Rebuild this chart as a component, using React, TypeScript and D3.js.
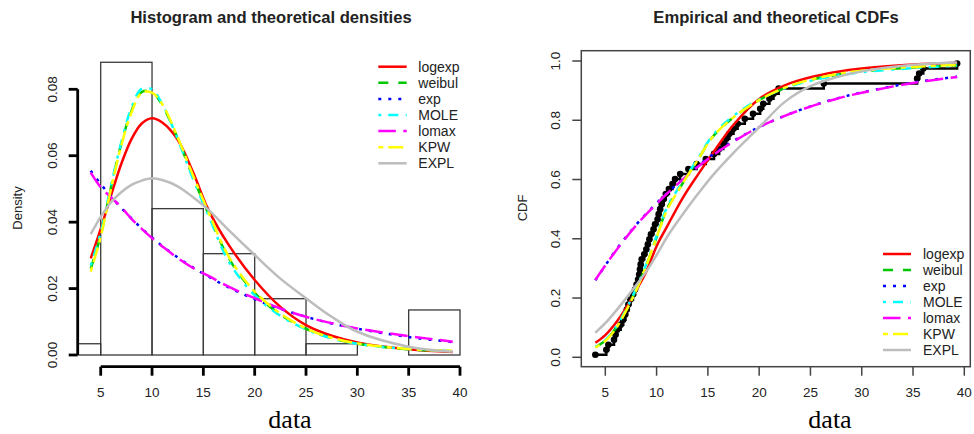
import React from 'react';
import * as d3 from 'd3';

// tick labels
const xTicks = [5, 10, 15, 20, 25, 30, 35, 40];
const densityTicks = [0, 0.02, 0.04, 0.06, 0.08];
const cdfTicks = [0, 0.2, 0.4, 0.6, 0.8, 1.0];
const histBreaks = [0, 5, 10, 15, 20, 25, 30, 35, 40];

const observations = [
  4.03, 5.1, 5.3, 5.85, 6.0, 6.15, 6.5, 6.75, 6.95, 7.1, 7.25, 7.45, 7.7, 7.9, 8.05,
  8.2, 8.3, 8.38, 8.45, 8.55, 8.8, 9.0, 9.15, 9.3, 9.45, 9.7, 9.85, 10.1, 10.2, 10.35,
  10.5, 10.7, 10.9, 11.2, 11.55, 11.8, 12.3, 13.1, 13.9, 14.8, 15.6, 16.1, 16.5, 16.8,
  17.1, 17.5, 17.9, 18.6, 19.4, 20.1, 20.4, 21.0, 21.4, 21.9, 26.3, 35.4, 35.6, 36.0, 39.3,
];

// x positions where the fitted curves were read
const gridX = [4.03, 5, 6, 7, 8, 9, 10, 11, 12.5, 14, 15.5, 17.5, 20, 22.5, 25, 27.5, 30, 35, 39.3];

// fitted densities
const densLogexp = [0.0291, 0.038, 0.048, 0.0575, 0.065, 0.0697, 0.0713, 0.07, 0.0648, 0.055, 0.0437, 0.033, 0.0226, 0.0145, 0.009, 0.0058, 0.0038, 0.0017, 0.0009];
const densWeibull = [0.026, 0.036, 0.0505, 0.0635, 0.0735, 0.0792, 0.0792, 0.0752, 0.0652, 0.0535, 0.0425, 0.029, 0.0187, 0.0122, 0.0079, 0.0051, 0.0034, 0.0017, 0.0012];
const densExp = [0.0555, 0.0515, 0.0478, 0.0443, 0.0411, 0.0381, 0.0354, 0.0328, 0.0294, 0.0263, 0.0236, 0.0203, 0.0168, 0.0139, 0.0115, 0.0095, 0.0079, 0.0054, 0.0039];
const densMole = [0.027, 0.037, 0.051, 0.064, 0.0745, 0.0802, 0.08, 0.0755, 0.065, 0.053, 0.042, 0.028, 0.018, 0.0118, 0.0077, 0.005, 0.0034, 0.0018, 0.0012];
const densLomax = [0.0549, 0.0505, 0.0475, 0.0445, 0.041, 0.038, 0.0352, 0.0327, 0.0292, 0.0262, 0.0238, 0.0205, 0.0171, 0.014, 0.0115, 0.0096, 0.008, 0.0057, 0.004];
const densKpw = [0.0251, 0.0356, 0.05, 0.063, 0.073, 0.079, 0.079, 0.0755, 0.0655, 0.054, 0.043, 0.0295, 0.0191, 0.0125, 0.008, 0.0052, 0.0035, 0.0018, 0.0013];
const densExpl = [0.0364, 0.0416, 0.046, 0.049, 0.0512, 0.0525, 0.0532, 0.0527, 0.0508, 0.0475, 0.0437, 0.0375, 0.0301, 0.023, 0.0171, 0.0115, 0.007, 0.0025, 0.001];

// fitted CDFs
const cdfLogexp = [0.049, 0.075, 0.115, 0.165, 0.225, 0.29, 0.375, 0.44, 0.535, 0.615, 0.69, 0.785, 0.872, 0.918, 0.945, 0.963, 0.975, 0.988, 0.994];
const cdfWeibull = [0.034, 0.056, 0.097, 0.157, 0.228, 0.31, 0.405, 0.5, 0.585, 0.665, 0.745, 0.81, 0.868, 0.909, 0.936, 0.953, 0.965, 0.978, 0.986];
const cdfExp = [0.26, 0.31, 0.36, 0.405, 0.447, 0.485, 0.52, 0.553, 0.6, 0.645, 0.685, 0.73, 0.777, 0.815, 0.847, 0.873, 0.894, 0.927, 0.947];
const cdfMole = [0.035, 0.058, 0.1, 0.16, 0.232, 0.315, 0.41, 0.505, 0.59, 0.67, 0.75, 0.815, 0.87, 0.908, 0.933, 0.95, 0.962, 0.976, 0.984];
const cdfLomax = [0.261, 0.31, 0.358, 0.403, 0.445, 0.483, 0.518, 0.552, 0.598, 0.642, 0.682, 0.728, 0.777, 0.815, 0.846, 0.872, 0.893, 0.926, 0.946];
const cdfKpw = [0.033, 0.055, 0.095, 0.155, 0.225, 0.31, 0.405, 0.495, 0.585, 0.665, 0.745, 0.81, 0.868, 0.91, 0.937, 0.955, 0.967, 0.98, 0.987];
const cdfExpl = [0.083, 0.115, 0.155, 0.198, 0.243, 0.29, 0.345, 0.405, 0.48, 0.55, 0.615, 0.69, 0.776, 0.862, 0.915, 0.945, 0.965, 0.987, 0.995];

const modelNames = ['logexp', 'weibul', 'exp', 'MOLE', 'lomax', 'KPW', 'EXPL'];
const modelColors = ['#ff0000', '#00c800', '#0000ff', '#00ffff', '#ff00ff', '#ffff00', '#bdbdbd'];
const modelDash = [null, '10 10', '3 7', '3 7 10 7.5', '17.5 7.5', '5 5 15 5', null];
const modelDens = [densLogexp, densWeibull, densExp, densMole, densLomax, densKpw, densExpl];
const modelCdf = [cdfLogexp, cdfWeibull, cdfExp, cdfMole, cdfLomax, cdfKpw, cdfExpl];

const SANS = 'Liberation Sans, Arial, sans-serif';
const SERIF = 'Liberation Serif, Times New Roman, serif';
const LW = 2.5;

function Legend({ x1, x2, tx, y0, step }) {
  return (
    <g>
      {modelNames.map((name, i) => (
        <g key={name}>
          <line x1={x1} x2={x2} y1={y0 + i * step} y2={y0 + i * step}
            stroke={modelColors[i]} strokeWidth={LW}
            strokeDasharray={modelDash[i] || undefined} />
          <text x={tx} y={y0 + i * step + 5} fontSize={14} fontFamily={SANS} fill="#222">{name}</text>
        </g>
      ))}
    </g>
  );
}

export default function App() {
  // left panel scales
  const xL = d3.scaleLinear().domain([5, 40]).range([100.7, 460]);
  const yL = d3.scaleLinear().domain([0, 0.08]).range([355, 89.3]);
  // right panel scales
  const xR = d3.scaleLinear().domain([5, 40]).range([605.3, 964.3]);
  const yR = d3.scaleLinear().domain([0, 1]).range([357.3, 61]);

  const n = observations.length;
  const bins = d3.bin().domain([0, 40]).thresholds(histBreaks.slice(1, -1))(observations);

  const densLine = (vals) =>
    d3.line().x((d, i) => xL(gridX[i])).y((d) => yL(d)).curve(d3.curveCatmullRom.alpha(0.5))(vals);
  const cdfLine = (vals) =>
    d3.line().x((d, i) => xR(gridX[i])).y((d) => yR(d)).curve(d3.curveCatmullRom.alpha(0.5))(vals);

  const ecdf = observations.map((v, i) => [v, (i + 0.5) / n]);
  const stepPath = d3.line().x((d) => xR(d[0])).y((d) => yR(d[1])).curve(d3.curveStepAfter)(ecdf);

  const leftX0 = 77.7, axisY = 366.7;
  const boxR = { x: 581.3, y: 50.7, w: 970.3 - 581.3, h: 366.7 - 50.7 };

  return (
    <svg width={974} height={434} style={{ position: 'absolute', left: 0, top: 0, background: '#fff' }}>
      <defs>
        <clipPath id="leftClip">
          <rect x={leftX0} y={40} width={400} height={axisY - 40} />
        </clipPath>
      </defs>

      {/* ---------- left: histogram + densities ---------- */}
      <text x={271} y={23} textAnchor="middle" fontSize={16.6} fontWeight="bold" fontFamily={SANS} fill="#222">
        Histogram and theoretical densities
      </text>
      <g clipPath="url(#leftClip)">
        {bins.map((b, i) => (
          <rect key={i} x={xL(b.x0)} y={yL(b.length / (n * (b.x1 - b.x0)))}
            width={xL(b.x1) - xL(b.x0)} height={yL(0) - yL(b.length / (n * (b.x1 - b.x0)))}
            fill="none" stroke="#3a3a3a" strokeWidth={1.3} />
        ))}
        {modelDens.map((vals, i) => (
          <path key={i} d={densLine(vals)} fill="none" stroke={modelColors[i]} strokeWidth={LW}
            strokeDasharray={modelDash[i] || undefined} />
        ))}
      </g>
      {/* y axis */}
      <line x1={leftX0} x2={leftX0} y1={yL(0)} y2={yL(0.08)} stroke="#000" strokeWidth={2.8} />
      {densityTicks.map((t) => (
        <g key={t}>
          <line x1={leftX0} x2={leftX0 - 9} y1={yL(t)} y2={yL(t)} stroke="#000" strokeWidth={2.8} />
          <text transform={`translate(${56.5},${yL(t)}) rotate(-90)`} textAnchor="middle"
            fontSize={13.5} fontFamily={SANS} fill="#222">{d3.format('.2f')(t)}</text>
        </g>
      ))}
      {/* x axis */}
      <line x1={xL(5)} x2={xL(40)} y1={axisY} y2={axisY} stroke="#000" strokeWidth={2.8} />
      {xTicks.map((t) => (
        <g key={t}>
          <line x1={xL(t)} x2={xL(t)} y1={axisY} y2={axisY + 9} stroke="#000" strokeWidth={2.8} />
          <text x={xL(t)} y={396.5} textAnchor="middle" fontSize={13.5} fontFamily={SANS} fill="#222">{t}</text>
        </g>
      ))}
      <text transform="translate(22,208) rotate(-90)" textAnchor="middle" fontSize={13} fontFamily={SANS} fill="#222">Density</text>
      <text x={290} y={428} textAnchor="middle" fontSize={26} fontFamily={SERIF} fill="#000">data</text>
      <Legend x1={378.3} x2={406.7} tx={418.3} y0={66.7} step={16.1} />

      {/* ---------- right: empirical + theoretical CDFs ---------- */}
      <text x={776} y={23} textAnchor="middle" fontSize={16.6} fontWeight="bold" fontFamily={SANS} fill="#222">
        Empirical and theoretical CDFs
      </text>
      <path d={stepPath} fill="none" stroke="#000" strokeWidth={2.5} />
      {ecdf.map((d, i) => (
        <circle key={i} cx={xR(d[0])} cy={yR(d[1])} r={3.3} fill="#000" />
      ))}
      {modelCdf.map((vals, i) => (
        <path key={i} d={cdfLine(vals)} fill="none" stroke={modelColors[i]} strokeWidth={LW}
          strokeDasharray={modelDash[i] || undefined} />
      ))}
      <rect x={boxR.x} y={boxR.y} width={boxR.w} height={boxR.h} fill="none" stroke="#444" strokeWidth={1.5} />
      {cdfTicks.map((t) => (
        <g key={t}>
          <line x1={boxR.x} x2={boxR.x - 9} y1={yR(t)} y2={yR(t)} stroke="#444" strokeWidth={1.5} />
          <text transform={`translate(${560},${yR(t)}) rotate(-90)`} textAnchor="middle"
            fontSize={13.5} fontFamily={SANS} fill="#222">{d3.format('.1f')(t)}</text>
        </g>
      ))}
      {xTicks.map((t) => (
        <g key={t}>
          <line x1={xR(t)} x2={xR(t)} y1={366.7} y2={375.7} stroke="#444" strokeWidth={1.5} />
          <text x={xR(t)} y={396.5} textAnchor="middle" fontSize={13.5} fontFamily={SANS} fill="#222">{t}</text>
        </g>
      ))}
      <text transform="translate(526.5,208) rotate(-90)" textAnchor="middle" fontSize={13} fontFamily={SANS} fill="#222">CDF</text>
      <text x={830} y={428} textAnchor="middle" fontSize={26} fontFamily={SERIF} fill="#000">data</text>
      <Legend x1={883} x2={911} tx={923} y0={254} step={16} />
    </svg>
  );
}
